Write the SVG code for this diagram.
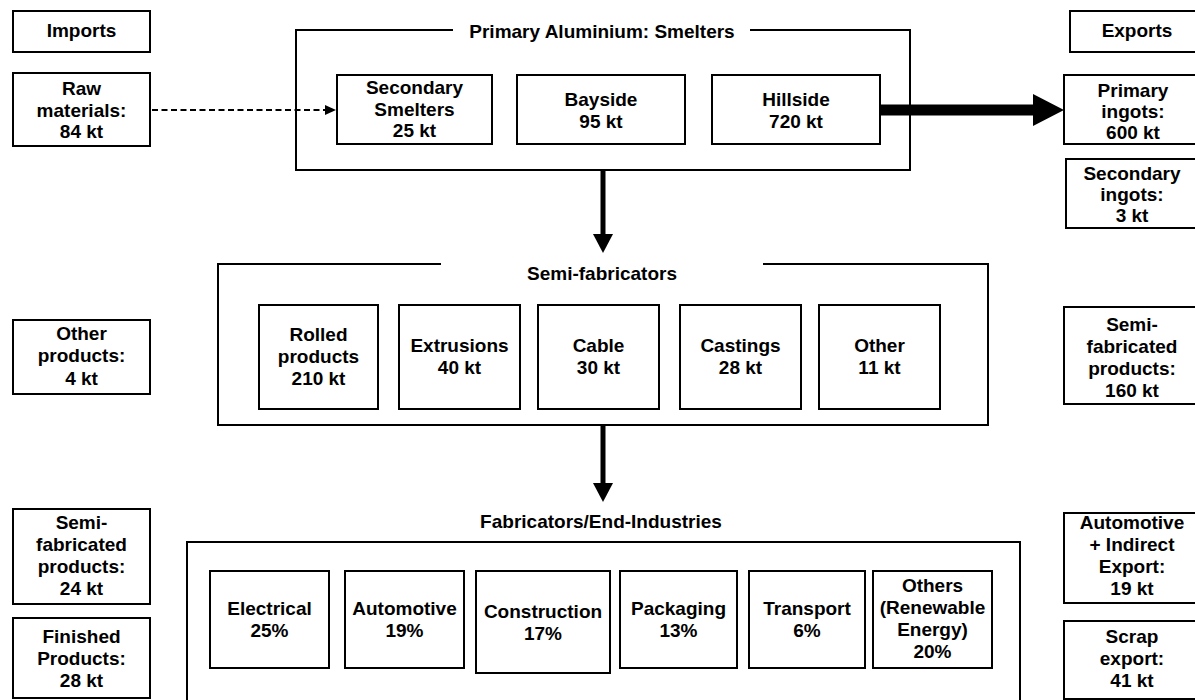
<svg xmlns="http://www.w3.org/2000/svg" width="1195" height="700" viewBox="0 0 1195 700">
<style>
.b{fill:#fff;stroke:#000;stroke-width:2}
.c{fill:none;stroke:#000;stroke-width:2}
.t{font-family:"Liberation Sans",Arial,sans-serif;font-weight:bold;font-size:19px;text-anchor:middle;fill:#000}
.ln{fill:none;stroke:#000}
</style>
<defs>
<marker id="hBig" markerUnits="userSpaceOnUse" markerWidth="31" markerHeight="32" refX="0" refY="16" orient="auto"><path d="M0,0 L31,16 L0,32 z" fill="#000"/></marker>
<marker id="hDown" markerUnits="userSpaceOnUse" markerWidth="19" markerHeight="20" refX="0" refY="10" orient="auto"><path d="M0,0 L19,10 L0,20 z" fill="#000"/></marker>
<marker id="hDash" markerUnits="userSpaceOnUse" markerWidth="11" markerHeight="10" refX="0" refY="5" orient="auto"><path d="M0,0 L11,5 L0,10 z" fill="#000"/></marker>
</defs>
<rect width="1195" height="700" fill="#fff"/>

<g id="smelters-group">
<path class="c" d="M453,30 H296 V170 H910 V30 H750"/>
<text class="t" x="602" y="38">Primary Aluminium: Smelters</text>
</g>
<g id="semi-group">
<path class="c" d="M441,264 H218 V425 H988 V264 H763"/>
<text class="t" x="602" y="280">Semi-fabricators</text>
</g>
<g id="fab-group">
<path class="c" d="M187,720 V542 H1020 V720"/>
<text class="t" x="601" y="528">Fabricators/End-Industries</text>
</g>

<g id="connectors">
<line class="ln" x1="152" y1="110" x2="325" y2="110" stroke-width="2" stroke-dasharray="6,3.5" marker-end="url(#hDash)"/>
<line class="ln" x1="880" y1="110" x2="1033" y2="110" stroke-width="11" marker-end="url(#hBig)"/>
<line class="ln" x1="603" y1="170" x2="603" y2="234" stroke-width="5" marker-end="url(#hDown)"/>
<line class="ln" x1="603" y1="425" x2="603" y2="483" stroke-width="5" marker-end="url(#hDown)"/>
</g>

<g id="imports"><rect class="b" x="13" y="11" width="137" height="41"/><text class="t" x="81.5" y="37">Imports</text></g>
<g id="raw-materials"><rect class="b" x="13" y="73" width="137" height="73"/>
<text class="t" x="81.5" y="95">Raw</text><text class="t" x="81.5" y="117">materials:</text><text class="t" x="81.5" y="138">84 kt</text></g>
<g id="other-products-import"><rect class="b" x="13" y="320" width="137" height="74"/>
<text class="t" x="81.5" y="340">Other</text><text class="t" x="81.5" y="362">products:</text><text class="t" x="81.5" y="385">4 kt</text></g>
<g id="semi-import"><rect class="b" x="13" y="509" width="137" height="95"/>
<text class="t" x="81.5" y="529">Semi-</text><text class="t" x="81.5" y="551">fabricated</text><text class="t" x="81.5" y="573">products:</text><text class="t" x="81.5" y="595">24 kt</text></g>
<g id="finished-import"><rect class="b" x="13" y="618" width="137" height="80"/>
<text class="t" x="81.5" y="643">Finished</text><text class="t" x="81.5" y="665">Products:</text><text class="t" x="81.5" y="687">28 kt</text></g>

<g id="secondary-smelters"><rect class="b" x="337" y="75" width="155" height="69"/>
<text class="t" x="414.5" y="94">Secondary</text><text class="t" x="414.5" y="116">Smelters</text><text class="t" x="414.5" y="137">25 kt</text></g>
<g id="bayside"><rect class="b" x="517" y="75" width="168" height="69"/>
<text class="t" x="601" y="106">Bayside</text><text class="t" x="601" y="128">95 kt</text></g>
<g id="hillside"><rect class="b" x="712" y="75" width="168" height="69"/>
<text class="t" x="796" y="106">Hillside</text><text class="t" x="796" y="128">720 kt</text></g>

<g id="rolled"><rect class="b" x="259" y="305" width="119" height="104"/>
<text class="t" x="318.5" y="341">Rolled</text><text class="t" x="318.5" y="363">products</text><text class="t" x="318.5" y="385">210 kt</text></g>
<g id="extrusions"><rect class="b" x="399" y="305" width="121" height="104"/>
<text class="t" x="459.5" y="352">Extrusions</text><text class="t" x="459.5" y="374">40 kt</text></g>
<g id="cable"><rect class="b" x="538" y="305" width="121" height="104"/>
<text class="t" x="598.5" y="352">Cable</text><text class="t" x="598.5" y="374">30 kt</text></g>
<g id="castings"><rect class="b" x="680" y="305" width="121" height="104"/>
<text class="t" x="740.5" y="352">Castings</text><text class="t" x="740.5" y="374">28 kt</text></g>
<g id="other-semi"><rect class="b" x="819" y="305" width="121" height="104"/>
<text class="t" x="879.5" y="352">Other</text><text class="t" x="879.5" y="374">11 kt</text></g>

<g id="electrical"><rect class="b" x="210" y="571" width="119" height="97"/>
<text class="t" x="269.5" y="615">Electrical</text><text class="t" x="269.5" y="637">25%</text></g>
<g id="automotive"><rect class="b" x="345" y="571" width="119" height="97"/>
<text class="t" x="404.5" y="615">Automotive</text><text class="t" x="404.5" y="637">19%</text></g>
<g id="construction"><rect class="b" x="476" y="571" width="134" height="102"/>
<text class="t" x="543" y="618">Construction</text><text class="t" x="543" y="640">17%</text></g>
<g id="packaging"><rect class="b" x="620" y="571" width="117" height="97"/>
<text class="t" x="678.5" y="615">Packaging</text><text class="t" x="678.5" y="637">13%</text></g>
<g id="transport"><rect class="b" x="749" y="571" width="116" height="97"/>
<text class="t" x="807" y="615">Transport</text><text class="t" x="807" y="637">6%</text></g>
<g id="others-renewable"><rect class="b" x="873" y="571" width="119" height="97"/>
<text class="t" x="932.5" y="592">Others</text><text class="t" x="932.5" y="614">(Renewable</text><text class="t" x="932.5" y="636">Energy)</text><text class="t" x="932.5" y="658">20%</text></g>

<g id="exports"><rect class="b" x="1070" y="11" width="132" height="41"/><text class="t" x="1137" y="37">Exports</text></g>
<g id="primary-ingots"><rect class="b" x="1064" y="75" width="138" height="69"/>
<text class="t" x="1133" y="97">Primary</text><text class="t" x="1133" y="118">ingots:</text><text class="t" x="1133" y="139">600 kt</text></g>
<g id="secondary-ingots"><rect class="b" x="1066" y="159" width="136" height="69"/>
<text class="t" x="1132" y="180">Secondary</text><text class="t" x="1132" y="201">ingots:</text><text class="t" x="1132" y="222">3 kt</text></g>
<g id="semi-export"><rect class="b" x="1064" y="307" width="138" height="97"/>
<text class="t" x="1132" y="331">Semi-</text><text class="t" x="1132" y="353">fabricated</text><text class="t" x="1132" y="375">products:</text><text class="t" x="1132" y="397">160 kt</text></g>
<g id="automotive-export"><rect class="b" x="1064" y="513" width="138" height="90"/>
<text class="t" x="1132" y="529">Automotive</text><text class="t" x="1132" y="551">+ Indirect</text><text class="t" x="1132" y="573">Export:</text><text class="t" x="1132" y="595">19 kt</text></g>
<g id="scrap-export"><rect class="b" x="1064" y="621" width="138" height="78"/>
<text class="t" x="1132" y="643">Scrap</text><text class="t" x="1132" y="665">export:</text><text class="t" x="1132" y="687">41 kt</text></g>
</svg>
